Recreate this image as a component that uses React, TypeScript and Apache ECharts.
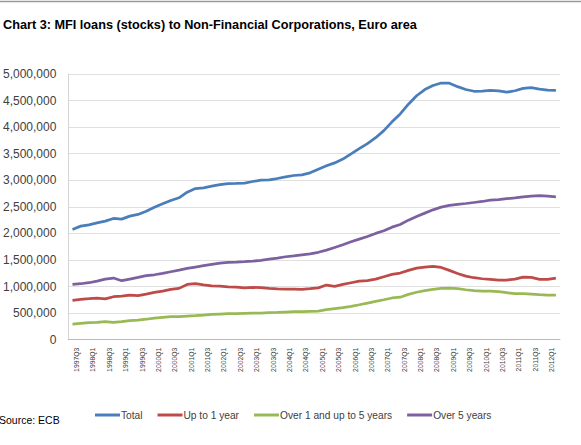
import React, { useEffect, useRef } from "react";
import * as echarts from "echarts";

const quarters: string[] = [
  "1997Q3", "1997Q4",
  "1998Q1", "1998Q2", "1998Q3", "1998Q4",
  "1999Q1", "1999Q2", "1999Q3", "1999Q4",
  "2000Q1", "2000Q2", "2000Q3", "2000Q4",
  "2001Q1", "2001Q2", "2001Q3", "2001Q4",
  "2002Q1", "2002Q2", "2002Q3", "2002Q4",
  "2003Q1", "2003Q2", "2003Q3", "2003Q4",
  "2004Q1", "2004Q2", "2004Q3", "2004Q4",
  "2005Q1", "2005Q2", "2005Q3", "2005Q4",
  "2006Q1", "2006Q2", "2006Q3", "2006Q4",
  "2007Q1", "2007Q2", "2007Q3", "2007Q4",
  "2008Q1", "2008Q2", "2008Q3", "2008Q4",
  "2009Q1", "2009Q2", "2009Q3", "2009Q4",
  "2010Q1", "2010Q2", "2010Q3", "2010Q4",
  "2011Q1", "2011Q2", "2011Q3", "2011Q4",
  "2012Q1", "2012Q2",
];

const total: number[] = [
  2075000, 2137000, 2162000, 2200000, 2231000, 2281000, 2269000, 2325000, 2357000, 2419000,
  2494000, 2557000, 2620000, 2670000, 2776000, 2845000, 2858000, 2889000, 2920000, 2939000,
  2940000, 2945000, 2977000, 3002000, 3008000, 3033000, 3064000, 3090000, 3102000, 3140000,
  3208000, 3272000, 3327000, 3399000, 3497000, 3596000, 3691000, 3801000, 3934000, 4100000,
  4249000, 4432000, 4591000, 4707000, 4784000, 4830000, 4828000, 4762000, 4708000, 4675000,
  4678000, 4691000, 4684000, 4657000, 4685000, 4730000, 4743000, 4717000, 4697000, 4694000,
];

const upTo1Year: number[] = [
  740000, 759000, 771000, 784000, 768000, 809000, 821000, 840000, 830000, 859000,
  890000, 915000, 947000, 966000, 1040000, 1055000, 1030000, 1015000, 1010000, 995000,
  991000, 975000, 984000, 978000, 966000, 955000, 950000, 953000, 947000, 959000,
  975000, 1028000, 1005000, 1041000, 1072000, 1103000, 1110000, 1141000, 1185000, 1229000,
  1254000, 1304000, 1348000, 1367000, 1380000, 1360000, 1304000, 1247000, 1197000, 1166000,
  1147000, 1135000, 1122000, 1122000, 1141000, 1179000, 1172000, 1135000, 1135000, 1160000,
];

const over1UpTo5Years: number[] = [
  295000, 308000, 320000, 326000, 339000, 326000, 339000, 360000, 370000, 385000,
  405000, 420000, 433000, 435000, 445000, 452000, 464000, 477000, 483000, 489000,
  489000, 496000, 502000, 502000, 508000, 514000, 521000, 527000, 527000, 533000,
  539000, 564000, 583000, 602000, 627000, 658000, 690000, 721000, 752000, 785000,
  800000, 853000, 893000, 925000, 947000, 966000, 972000, 959000, 940000, 922000,
  915000, 915000, 903000, 884000, 868000, 865000, 859000, 846000, 840000, 840000,
];

const over5Years: number[] = [
  1041000, 1053000, 1072000, 1103000, 1141000, 1160000, 1110000, 1141000, 1172000, 1204000,
  1222000, 1248000, 1279000, 1310000, 1342000, 1367000, 1392000, 1417000, 1442000, 1454000,
  1458000, 1467000, 1479000, 1492000, 1517000, 1536000, 1561000, 1579000, 1598000, 1617000,
  1645000, 1686000, 1736000, 1786000, 1843000, 1893000, 1943000, 2000000, 2050000, 2118000,
  2169000, 2250000, 2319000, 2382000, 2444000, 2494000, 2526000, 2545000, 2563000, 2582000,
  2601000, 2626000, 2638000, 2654000, 2670000, 2688000, 2701000, 2711000, 2704000, 2688000,
];

const seriesNames: string[] = ["Total", "Up to 1 year", "Over 1 and up to 5 years", "Over 5 years"];
const seriesColors: string[] = ["#4a7ebb", "#be4b48", "#98b954", "#7d60a0"];

const FONT = "'Liberation Sans', Arial, sans-serif";

export default function App() {
  const ref = useRef<HTMLDivElement>(null);

  useEffect(() => {
    if (!ref.current) return;
    const chart = echarts.init(ref.current, undefined, { renderer: "svg" });
    const datasets = [total, upTo1Year, over1UpTo5Years, over5Years];
    chart.setOption({
      animation: false,
      backgroundColor: "#ffffff",
      title: {
        text: "Chart 3: MFI loans (stocks) to Non-Financial Corporations, Euro area",
        left: 3,
        top: 18,
        padding: 0,
        textStyle: {
          fontFamily: FONT,
          fontWeight: "bold",
          fontSize: 12.7,
          color: "#000000",
        },
      },
      graphic: [
        {
          type: "line",
          shape: { x1: 0, y1: 1.5, x2: 581, y2: 1.5 },
          style: { stroke: "#9a9a9a", lineWidth: 1.5 },
        },
        {
          type: "text",
          left: -1,
          top: 414,
          style: {
            text: "Source: ECB",
            fontFamily: FONT,
            fontSize: 10.5,
            fill: "#000000",
          },
        },
      ],
      legend: {
        data: seriesNames,
        left: 90,
        top: 405,
        itemWidth: 25,
        itemHeight: 3,
        itemGap: 15,
        icon: "rect",
        textStyle: {
          fontFamily: FONT,
          fontSize: 10.2,
          color: "#404040",
          padding: [0, 0, 0, -4],
        },
      },
      grid: {
        left: 65,
        right: 21,
        top: 74,
        bottom: 105.3,
        containLabel: false,
      },
      xAxis: {
        type: "category",
        data: quarters,
        boundaryGap: true,
        axisLine: { show: true, lineStyle: { color: "#bcbcbc", width: 1 } },
        axisTick: { show: false },
        axisLabel: {
          interval: 1,
          rotate: 90,
          margin: 8,
          fontFamily: FONT,
          fontSize: 6.8,
          color: "#404040",
          verticalAlign: "top",
          lineHeight: 8,
        },
        splitLine: { show: false },
      },
      yAxis: {
        type: "value",
        min: 0,
        max: 5000000,
        interval: 500000,
        axisLine: { show: true, lineStyle: { color: "#d4d4d4", width: 1 } },
        axisTick: { show: false },
        axisLabel: {
          margin: 12,
          fontFamily: FONT,
          fontSize: 12,
          color: "#404040",
          formatter: (v: number) => v.toLocaleString("en-US"),
        },
        splitLine: { show: true, lineStyle: { color: "#e0e0e0", width: 1 } },
      },
      series: seriesNames.map((name, i) => ({
        name,
        type: "line",
        data: datasets[i],
        symbol: "none",
        smooth: false,
        lineStyle: { color: seriesColors[i], width: 2.75 },
        itemStyle: { color: seriesColors[i] },
      })),
    });
    return () => chart.dispose();
  }, []);

  return (
    <div
      ref={ref}
      style={{ position: "fixed", left: 0, top: 0, width: 581, height: 445 }}
    />
  );
}
